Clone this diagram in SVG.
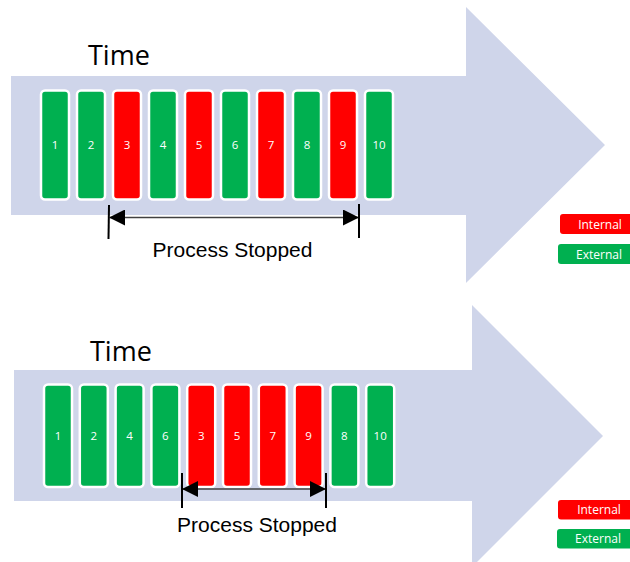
<svg xmlns="http://www.w3.org/2000/svg" width="630" height="562" viewBox="0 0 630 562">
  <style>
    .band { fill: #CFD5EA; }
    .box rect { stroke: #FFFFFF; stroke-width: 2.5; }
    .int { fill: #FF0000; }
    .ext { fill: #00B050; }
    .num { font-family: "Open Sans", "Noto Sans", sans-serif; font-size: 11.5px; fill: #FFFFFF; text-anchor: middle; }
    .title { font-family: "Open Sans", "Noto Sans", sans-serif; font-size: 27px; fill: #000000; }
    .span-label { font-family: "Liberation Sans", Arial, sans-serif; font-size: 21px; fill: #000000; text-anchor: middle; }
    .legend-text { font-family: "Open Sans", "Noto Sans", sans-serif; font-size: 12px; fill: #FFFFFF; text-anchor: middle; }
    .span-line { stroke: #404040; stroke-width: 1.6; fill: none; }
    .tick { stroke: #000000; stroke-width: 2; }
  </style>
  <defs>
    <marker id="head" viewBox="0 0 16 16" refX="15" refY="8" markerWidth="16" markerHeight="16" markerUnits="userSpaceOnUse" orient="auto-start-reverse">
      <path d="M0,0 L16,8 L0,16 Z" fill="#000000"/>
    </marker>
  </defs>

  <!-- Upper timeline: original order -->
  <g id="timeline-top">
    <path class="band" d="M11,76 L466,76 L466,7 L605,145 L466,283 L466,215 L11,215 Z"/>
    <text class="title" x="88" y="65">Time</text>
  </g>
  <g id="top-1" class="box"><rect class="ext" x="41" y="90.5" width="28" height="109" rx="4"/><text class="num" x="55" y="149">1</text></g>
  <g id="top-2" class="box"><rect class="ext" x="77" y="90.5" width="28" height="109" rx="4"/><text class="num" x="91" y="149">2</text></g>
  <g id="top-3" class="box"><rect class="int" x="113" y="90.5" width="28" height="109" rx="4"/><text class="num" x="127" y="149">3</text></g>
  <g id="top-4" class="box"><rect class="ext" x="149" y="90.5" width="28" height="109" rx="4"/><text class="num" x="163" y="149">4</text></g>
  <g id="top-5" class="box"><rect class="int" x="185" y="90.5" width="28" height="109" rx="4"/><text class="num" x="199" y="149">5</text></g>
  <g id="top-6" class="box"><rect class="ext" x="221" y="90.5" width="28" height="109" rx="4"/><text class="num" x="235" y="149">6</text></g>
  <g id="top-7" class="box"><rect class="int" x="257" y="90.5" width="28" height="109" rx="4"/><text class="num" x="271" y="149">7</text></g>
  <g id="top-8" class="box"><rect class="ext" x="293" y="90.5" width="28" height="109" rx="4"/><text class="num" x="307" y="149">8</text></g>
  <g id="top-9" class="box"><rect class="int" x="329" y="90.5" width="28" height="109" rx="4"/><text class="num" x="343" y="149">9</text></g>
  <g id="top-10" class="box"><rect class="ext" x="365" y="90.5" width="28" height="109" rx="4"/><text class="num" x="379" y="149">10</text></g>

  <g id="top-legend">
    <rect class="int" x="560" y="214" width="72" height="20" rx="3"/>
    <text class="legend-text" x="600" y="228.5">Internal</text>
    <rect class="ext" x="558" y="244" width="74" height="20" rx="3"/>
    <text class="legend-text" x="599" y="258.5">External</text>
  </g>

  <!-- Lower timeline: regrouped order -->
  <g id="timeline-bottom">
    <path class="band" d="M14,370 L472,370 L472,305 L603,436 L472,567 L472,501 L14,501 Z"/>
    <text class="title" x="90" y="361">Time</text>
  </g>
  <g id="bot-1" class="box"><rect class="ext" x="44" y="384.5" width="28" height="102.5" rx="4"/><text class="num" x="58" y="440">1</text></g>
  <g id="bot-2" class="box"><rect class="ext" x="79.8" y="384.5" width="28" height="102.5" rx="4"/><text class="num" x="93.8" y="440">2</text></g>
  <g id="bot-4" class="box"><rect class="ext" x="115.6" y="384.5" width="28" height="102.5" rx="4"/><text class="num" x="129.6" y="440">4</text></g>
  <g id="bot-6" class="box"><rect class="ext" x="151.4" y="384.5" width="28" height="102.5" rx="4"/><text class="num" x="165.4" y="440">6</text></g>
  <g id="bot-3" class="box"><rect class="int" x="187.2" y="384.5" width="28" height="102.5" rx="4"/><text class="num" x="201.2" y="440">3</text></g>
  <g id="bot-5" class="box"><rect class="int" x="223" y="384.5" width="28" height="102.5" rx="4"/><text class="num" x="237" y="440">5</text></g>
  <g id="bot-7" class="box"><rect class="int" x="258.8" y="384.5" width="28" height="102.5" rx="4"/><text class="num" x="272.8" y="440">7</text></g>
  <g id="bot-9" class="box"><rect class="int" x="294.6" y="384.5" width="28" height="102.5" rx="4"/><text class="num" x="308.6" y="440">9</text></g>
  <g id="bot-8" class="box"><rect class="ext" x="330.4" y="384.5" width="28" height="102.5" rx="4"/><text class="num" x="344.4" y="440">8</text></g>
  <g id="bot-10" class="box"><rect class="ext" x="366.2" y="384.5" width="28" height="102.5" rx="4"/><text class="num" x="380.2" y="440">10</text></g>

  <g id="bottom-legend">
    <rect class="int" x="558" y="500" width="74" height="19.5" rx="3"/>
    <text class="legend-text" x="599" y="514">Internal</text>
    <rect class="ext" x="557" y="529" width="75" height="19.5" rx="3"/>
    <text class="legend-text" x="598" y="543">External</text>
  </g>

  <!-- Span markers -->
  <g id="connectors">
    <line class="tick" x1="109" y1="205" x2="108.5" y2="239"/>
    <line class="tick" x1="359" y1="204" x2="359" y2="238"/>
    <line class="span-line" x1="110" y1="217.5" x2="358" y2="217.5" marker-start="url(#head)" marker-end="url(#head)"/>
    <line class="tick" x1="182" y1="473" x2="182" y2="508"/>
    <line class="tick" x1="326" y1="473" x2="326" y2="508"/>
    <line class="span-line" x1="183" y1="489" x2="325" y2="489" marker-start="url(#head)" marker-end="url(#head)"/>
  </g>
  <g id="labels">
    <text class="span-label" x="232.5" y="257">Process Stopped</text>
    <text class="span-label" x="257" y="532">Process Stopped</text>
  </g>
</svg>
